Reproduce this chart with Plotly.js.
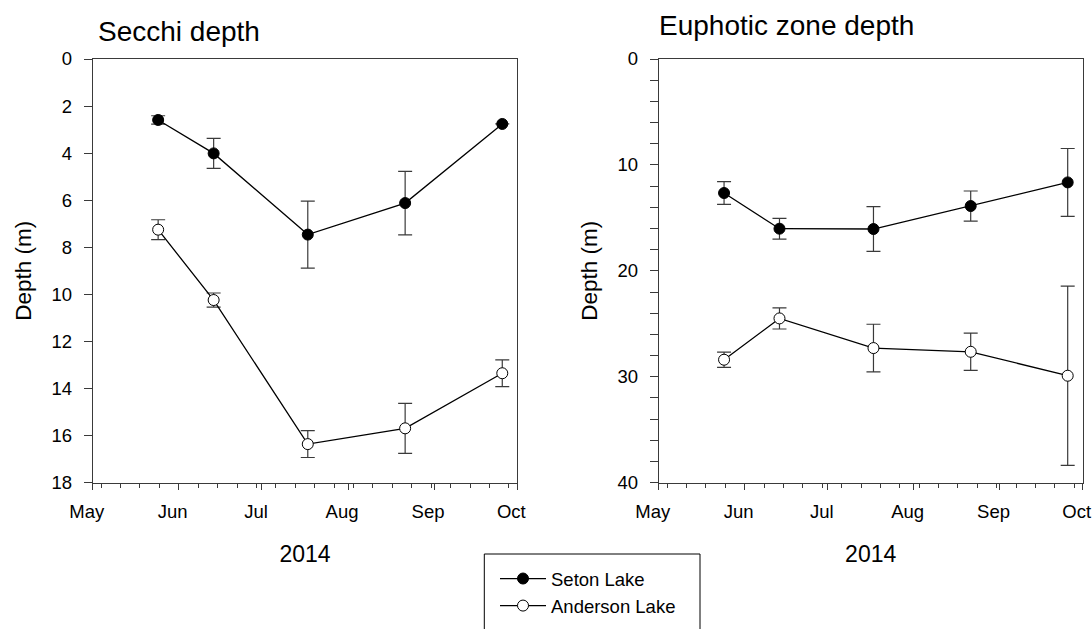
<!DOCTYPE html>
<html>
<head>
<meta charset="utf-8">
<script src="https://cdn.plot.ly/plotly-3.0.1.min.js"></script>
<style>
  html, body { margin: 0; padding: 0; background: #fff; }
  #chart { width: 1092px; height: 629px; }
</style>
</head>
<body>
<div id="chart"></div>
<script>
// Sampling dates (2014 field season)
const sampleDates = ['2014-05-24 14:00', '2014-06-13 14:00', '2014-07-17 12:00', '2014-08-21 14:00', '2014-09-25 14:00'];

// Secchi depth (m), mean and error
const secchiSeton = [2.59, 4.01, 7.46, 6.12, 2.76];
const secchiSetonErr = [0.18, 0.64, 1.42, 1.35, null];
const secchiAnderson = [7.25, 10.24, 16.36, 15.69, 13.35];
const secchiAndersonErr = [0.42, 0.30, 0.57, 1.06, 0.57];

// Euphotic zone depth (m), mean and error
const euphoticSeton = [12.65, 16.02, 16.05, 13.88, 11.65];
const euphoticSetonErr = [1.07, 0.98, 2.12, 1.42, 3.2];
const euphoticAnderson = [28.39, 24.49, 27.29, 27.64, 29.9];
const euphoticAndersonErr = [0.72, 1.0, 2.25, 1.76, 8.46];

const lakeNames = ['Seton Lake', 'Anderson Lake'];
const panelTitles = ['Secchi depth', 'Euphotic zone depth'];
const yTitle = 'Depth (m)';
const xTitle = '2014';

const FONT = 'Liberation Sans, Arial, sans-serif';
const AXIS_COLOR = '#3a3a3a';

function series(x, y, err, filled, name, xa, ya, showLegend) {
  return {
    type: 'scatter', mode: 'lines+markers',
    x: x, y: y, name: name, xaxis: xa, yaxis: ya,
    showlegend: showLegend, legendgroup: name,
    line: { color: '#000', width: 1.3 },
    marker: {
      symbol: 'circle', size: 11,
      color: filled ? '#000' : '#fff',
      line: { color: '#000', width: 1 }
    },
    error_y: {
      type: 'data', array: err, visible: true,
      color: AXIS_COLOR, thickness: 1.2, width: 7
    }
  };
}

const data = [
  series(sampleDates, secchiSeton, secchiSetonErr, true, lakeNames[0], 'x', 'y', true),
  series(sampleDates, secchiAnderson, secchiAndersonErr, false, lakeNames[1], 'x', 'y', true),
  series(sampleDates, euphoticSeton, euphoticSetonErr, true, lakeNames[0], 'x2', 'y2', false),
  series(sampleDates, euphoticAnderson, euphoticAndersonErr, false, lakeNames[1], 'x2', 'y2', false)
];

const W = 1092, H = 629;
const px = v => v / W;
const py = v => 1 - v / H;

function xAxis(domain, anchor) {
  return {
    domain: domain, anchor: anchor, type: 'date',
    range: ['2014-05-01', '2014-10-01'],
    dtick: 'M1', tick0: '2014-05-01', tickformat: '%b',
    ticks: 'outside', ticklen: 6, tickwidth: 1, tickcolor: AXIS_COLOR,
    ticklabelshift: -6, ticklabelstandoff: 6,
    minor: { dtick: 7 * 86400000, tick0: '2014-05-04', ticks: 'outside', ticklen: 4, tickwidth: 1, tickcolor: AXIS_COLOR, showgrid: false },
    showline: true, linecolor: AXIS_COLOR, linewidth: 1, mirror: true,
    showgrid: false, zeroline: false,
    tickfont: { family: FONT, size: 18.5, color: '#000' },
    title: { text: xTitle, font: { family: FONT, size: 23, color: '#000' }, standoff: 24 }
  };
}

function yAxis(domain, anchor, range, dtick, minorDtick) {
  const ax = {
    domain: domain, anchor: anchor,
    range: range, dtick: dtick, tick0: 0,
    ticks: 'outside', ticklen: 8, tickwidth: 1, tickcolor: AXIS_COLOR,
    ticklabelstandoff: 8,
    showline: true, linecolor: AXIS_COLOR, linewidth: 1, mirror: true,
    showgrid: false, zeroline: false,
    tickfont: { family: FONT, size: 18.5, color: '#000' },
    title: { text: yTitle, font: { family: FONT, size: 22.5, color: '#000' }, standoff: 13 }
  };
  if (minorDtick) {
    ax.minor = { dtick: minorDtick, tick0: 0, ticks: 'outside', ticklen: 8, tickwidth: 1, tickcolor: AXIS_COLOR, showgrid: false };
  }
  return ax;
}

const yDom = [py(482.7), py(59)];

const layout = {
  width: W, height: H,
  margin: { l: 0, r: 0, t: 0, b: 0 },
  paper_bgcolor: '#fff', plot_bgcolor: '#fff',
  font: { family: FONT, color: '#000' },
  xaxis: xAxis([px(92.7), px(517.3)], 'y'),
  yaxis: yAxis(yDom, 'x', [18, 0], 2, null),
  xaxis2: xAxis([px(658.7), px(1082.7)], 'y2'),
  yaxis2: yAxis(yDom, 'x2', [40, 0], 10, 2),
  showlegend: true,
  legend: {
    x: px(495), y: py(560), xanchor: 'left', yanchor: 'top',
    bgcolor: 'rgba(0,0,0,0)', borderwidth: 0,
    font: { family: FONT, size: 18.5, color: '#000' },
    itemwidth: 46, tracegroupgap: 0
  },
  shapes: [
    { type: 'rect', xref: 'paper', yref: 'paper',
      x0: px(484.3), x1: px(700), y0: py(554), y1: py(640),
      line: { color: '#000', width: 1 }, fillcolor: 'rgba(0,0,0,0)' }
  ],
  annotations: [
    { text: panelTitles[0], xref: 'paper', yref: 'paper', x: px(95.5), y: py(32), xanchor: 'left', yanchor: 'middle', showarrow: false, font: { family: FONT, size: 28, color: '#000' } },
    { text: panelTitles[1], xref: 'paper', yref: 'paper', x: px(657), y: py(26), xanchor: 'left', yanchor: 'middle', showarrow: false, font: { family: FONT, size: 28, color: '#000' } }
  ]
};

Plotly.newPlot('chart', data, layout, { displayModeBar: false, staticPlot: true });
</script>
</body>
</html>
